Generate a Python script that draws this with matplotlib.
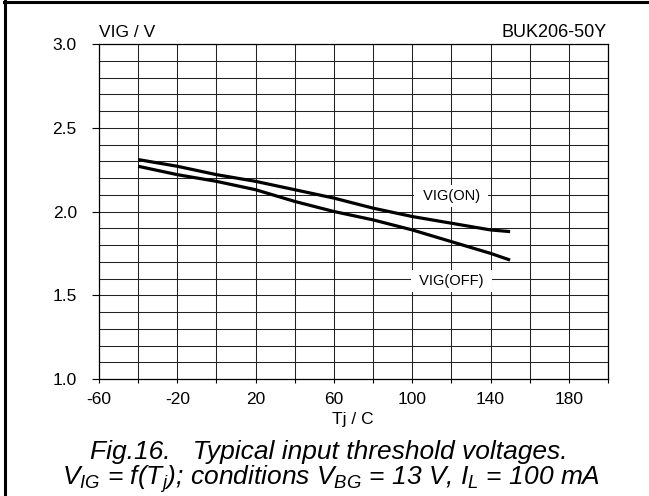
import matplotlib
matplotlib.use("Agg")
import matplotlib.pyplot as plt
from matplotlib.lines import Line2D
from matplotlib import font_manager
import numpy as np

# ---- data ----
tj = [-40, -20, 0, 20, 40, 60, 80, 100, 120, 140, 150]
vig_on = [2.31, 2.27, 2.22, 2.18, 2.13, 2.08, 2.02, 1.97, 1.93, 1.89, 1.88]
vig_off = [2.27, 2.22, 2.18, 2.13, 2.06, 2.00, 1.95, 1.89, 1.82, 1.75, 1.71]
xtick_labels = ["-60", "-20", "20", "60", "100", "140", "180"]
ytick_labels = ["1.0", "1.5", "2.0", "2.5", "3.0"]
label_on = "VIG(ON)"
label_off = "VIG(OFF)"
ylabel = "VIG / V"
xlabel = "Tj / C"
part = "BUK206-50Y"
caption1 = "Fig.16.   Typical input threshold voltages."
caption2 = r"$V_{IG}$ = f($T_j$); conditions $V_{BG}$ = 13 V, $I_L$ = 100 mA"

names = {f.name for f in font_manager.fontManager.ttflist}
narrow = "Liberation Sans Narrow" if "Liberation Sans Narrow" in names else "Liberation Sans"

plt.rcParams["font.family"] = ["Liberation Sans", "DejaVu Sans"]
plt.rcParams["mathtext.fontset"] = "custom"
plt.rcParams["mathtext.it"] = narrow + ":italic"
plt.rcParams["mathtext.rm"] = narrow + ":italic"

W, H = 649, 496
fig = plt.figure(figsize=(W / 100, H / 100), dpi=100)

def fx(x):
    return x / W

def fy(y):
    return 1 - y / H

L, R, T, B = 99, 608, 44, 379
ax = fig.add_axes([fx(L), fy(B), fx(R) - fx(L), fy(T) - fy(B)])

ax.set_xlim(-60, 200)
ax.set_ylim(1.0, 3.0)

xvals = [float(s) for s in xtick_labels]
yvals = [float(s) for s in ytick_labels]
ax.set_xticks(xvals)
ax.set_xticklabels(xtick_labels)
ax.set_xticks(np.arange(-60, 201, 20), minor=True)
ax.set_yticks(yvals)
ax.set_yticklabels(ytick_labels)
ax.set_yticks(np.arange(1.0, 3.001, 0.1), minor=True)

ax.tick_params(axis="x", which="both", direction="out", length=3, width=0.8,
               labelsize=12.5, pad=6)
ax.tick_params(axis="y", which="major", direction="out", length=5, width=0.8,
               labelsize=12.5, pad=11)
ax.tick_params(axis="y", which="minor", length=0)

ax.grid(which="both", color="#222222", linewidth=0.75)
ax.set_axisbelow(True)
for s in ax.spines.values():
    s.set_linewidth(0.9)
    s.set_color("black")

ax.plot(tj, vig_on, color="black", lw=2.3, solid_capstyle="butt", zorder=3)
ax.plot(tj, vig_off, color="black", lw=2.3, solid_capstyle="butt", zorder=3)

box = dict(boxstyle="square,pad=0.3", fc="white", ec="none")
ax.text(120, 2.093, " " + label_on + " ", ha="center", va="center",
        fontsize=10.5, bbox=box, zorder=4)
ax.text(120, 1.585, " " + label_off + " ", ha="center", va="center",
        fontsize=10.5, bbox=box, zorder=4)

fig.text(fx(99), fy(37), ylabel, ha="left", va="baseline", fontsize=12.5)
fig.text(fx(607), fy(37), part, ha="right", va="baseline", fontsize=13)
fig.text(fx(353), fy(424), xlabel, ha="center", va="baseline", fontsize=12.5)

fig.text(fx(329), fy(459), caption1, ha="center", va="baseline",
         fontsize=19, family=narrow, style="italic")
fig.text(fx(331), fy(485), caption2, ha="center", va="baseline",
         fontsize=19, family=narrow, style="italic")

# outer frame
fig.add_artist(Line2D([fx(5), fx(5)], [0, fy(1)], color="black", lw=2.2,
                      transform=fig.transFigure))
fig.add_artist(Line2D([fx(4), 1], [fy(2), fy(2)], color="black", lw=2.2,
                      transform=fig.transFigure))

fig.savefig("out.png", dpi=100)
